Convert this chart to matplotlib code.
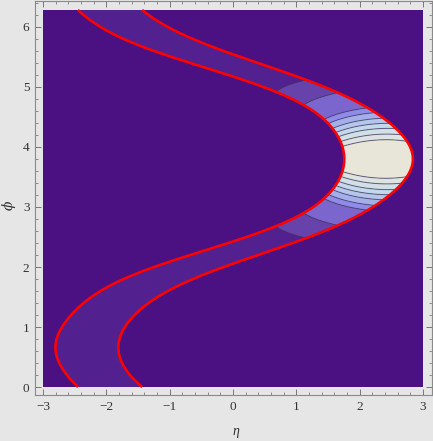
import numpy as np
import matplotlib
matplotlib.use("Agg")
import matplotlib.pyplot as plt
from matplotlib.patches import Rectangle
from matplotlib.ticker import MultipleLocator

# ---- data ----
# inner (left) red boundary curve: eta as a function of phi
inner_phi = [0.0, 0.12, 0.34, 0.62, 0.84, 1.12, 1.37, 1.62, 1.90, 2.15, 2.65, 3.28,
             3.78, 4.23, 4.39, 4.59, 4.76, 4.93, 5.20, 5.45, 5.77, 6.28]
inner_eta = [-2.47, -2.63, -2.76, -2.81, -2.73, -2.54, -2.36, -1.99, -1.47, -0.68, 0.69, 1.58,
             1.77, 1.61, 1.48, 1.27, 1.01, 0.64, -0.15, -0.94, -1.73, -2.48]
# outer (right) red boundary curve
outer_phi = [0.0, 0.62, 1.12, 1.47, 1.81, 2.09, 2.42, 2.76, 3.00, 3.28, 3.78, 4.23,
             4.42, 4.70, 4.91, 5.15, 5.31, 5.59, 5.98, 6.28]
outer_eta = [-1.44, -1.78, -1.68, -1.17, -0.68, 0.11, 1.06, 1.85, 2.22, 2.61, 2.83, 2.64,
             2.43, 2.01, 1.58, 1.06, 0.64, -0.15, -0.94, -1.46]
phi_center = 3.80          # symmetry line of the band (vertex)
# contour levels: distance |phi - phi_center| at which each contour meets the inner curve
contour_levels = [0.21, 0.29, 0.37, 0.44, 0.51, 0.59, 0.66, 0.90, 1.12]
band_colors = ['#E8E5D9', '#DCE3E0', '#D0E0E6', '#C3D8EA', '#B4C6EA', '#A4AEEA',
               '#8E8CE8', '#7A66CC', '#6642AA', '#52208F']
bg_color = '#4B1183'

x_ticks = [-3, -2, -1, 0, 1, 2, 3]
y_ticks = [0, 1, 2, 3, 4, 5, 6]


def fourier_fit(phi, eta, nharm=5):
    phi = np.asarray(phi); eta = np.asarray(eta)
    th = phi - phi_center
    A = np.column_stack([np.cos(k * th) for k in range(nharm + 1)])
    coef, *_ = np.linalg.lstsq(A, eta, rcond=None)
    def f(p):
        t = np.asarray(p) - phi_center
        return sum(c * np.cos(k * t) for k, c in enumerate(coef))
    return f


f_in = fourier_fit(inner_phi, inner_eta)
f_out = fourier_fit(outer_phi, outer_eta)

W, H = 433, 441
fig = plt.figure(figsize=(W / 100, H / 100), dpi=100, facecolor='#E6E6E6')
ax = fig.add_axes([35 / W, (H - 395) / H, 397 / W, 394 / H])
ax.set_facecolor('#E6E6E6')
xmin = -3 - 8 / 63.33
ymin = -8 / 60
ax.set_xlim(xmin, xmin + 397 / 63.33)
ax.set_ylim(ymin, ymin + 394 / 60)

ax.add_patch(Rectangle((-3, 0), 6, 2 * np.pi, facecolor=bg_color, edgecolor='none', zorder=0))

# field inside the band
eta_g = np.linspace(-3, 3, 900)
phi_g = np.linspace(0, 2 * np.pi, 900)
E, P = np.meshgrid(eta_g, phi_g)
L = f_in(P)
R = f_out(P)
s = (E - L) / (R - L)
th = np.abs(P - phi_center)
bulge = 0.24 * np.exp(-2.0 * th ** 2)
tilt = 0.42 * np.exp(-0.5 * th ** 2)
u = th / (1 + tilt * s) - bulge * s * (1 - s)
u = np.ma.masked_where((s < 0) | (s > 1), u)
lev = [-5] + contour_levels + [50]
ax.contourf(E, P, u, levels=lev, colors=band_colors, zorder=1, antialiased=True)
ax.contour(E, P, u, levels=contour_levels, colors=[(0.25, 0.23, 0.35, 0.7)],
           linewidths=0.7, zorder=2)

pp = np.linspace(0, 2 * np.pi, 600)
for f in (f_in, f_out):
    ax.plot(f(pp), pp, color='#FF0000', lw=1.9, zorder=3, solid_capstyle='butt')

# frame styling
for sp in ax.spines.values():
    sp.set_color('#8A8A8A')
    sp.set_linewidth(0.8)
ax.set_xticks(x_ticks)
ax.set_yticks(y_ticks)
ax.xaxis.set_minor_locator(MultipleLocator(0.2))
ax.yaxis.set_minor_locator(MultipleLocator(0.2))
ax.tick_params(which='both', direction='in', top=True, right=True, color='#666666')
ax.tick_params(which='major', length=4.5, width=0.6)
ax.tick_params(which='minor', length=2.5, width=0.5)
ax.tick_params(labelsize=9.5, labelcolor='#333333', labelfontfamily='Liberation Serif', pad=4)
ax.set_xticklabels(['\u22123', '\u22122', '\u22121', '0', '1', '2', '3'])
ax.set_yticklabels([str(v) for v in y_ticks])

fig.text(236 / W, 1 - 432 / H, '\u03b7', fontsize=10, family='Liberation Serif',
         style='italic', color='#333333', ha='center', va='center')
fig.text(9 / W, 1 - 205 / H, '\u03d5', fontsize=10, family='DejaVu Serif',
         style='italic', color='#333333', ha='center', va='center', rotation=90)

fig.savefig('out.png', dpi=100, facecolor=fig.get_facecolor())
